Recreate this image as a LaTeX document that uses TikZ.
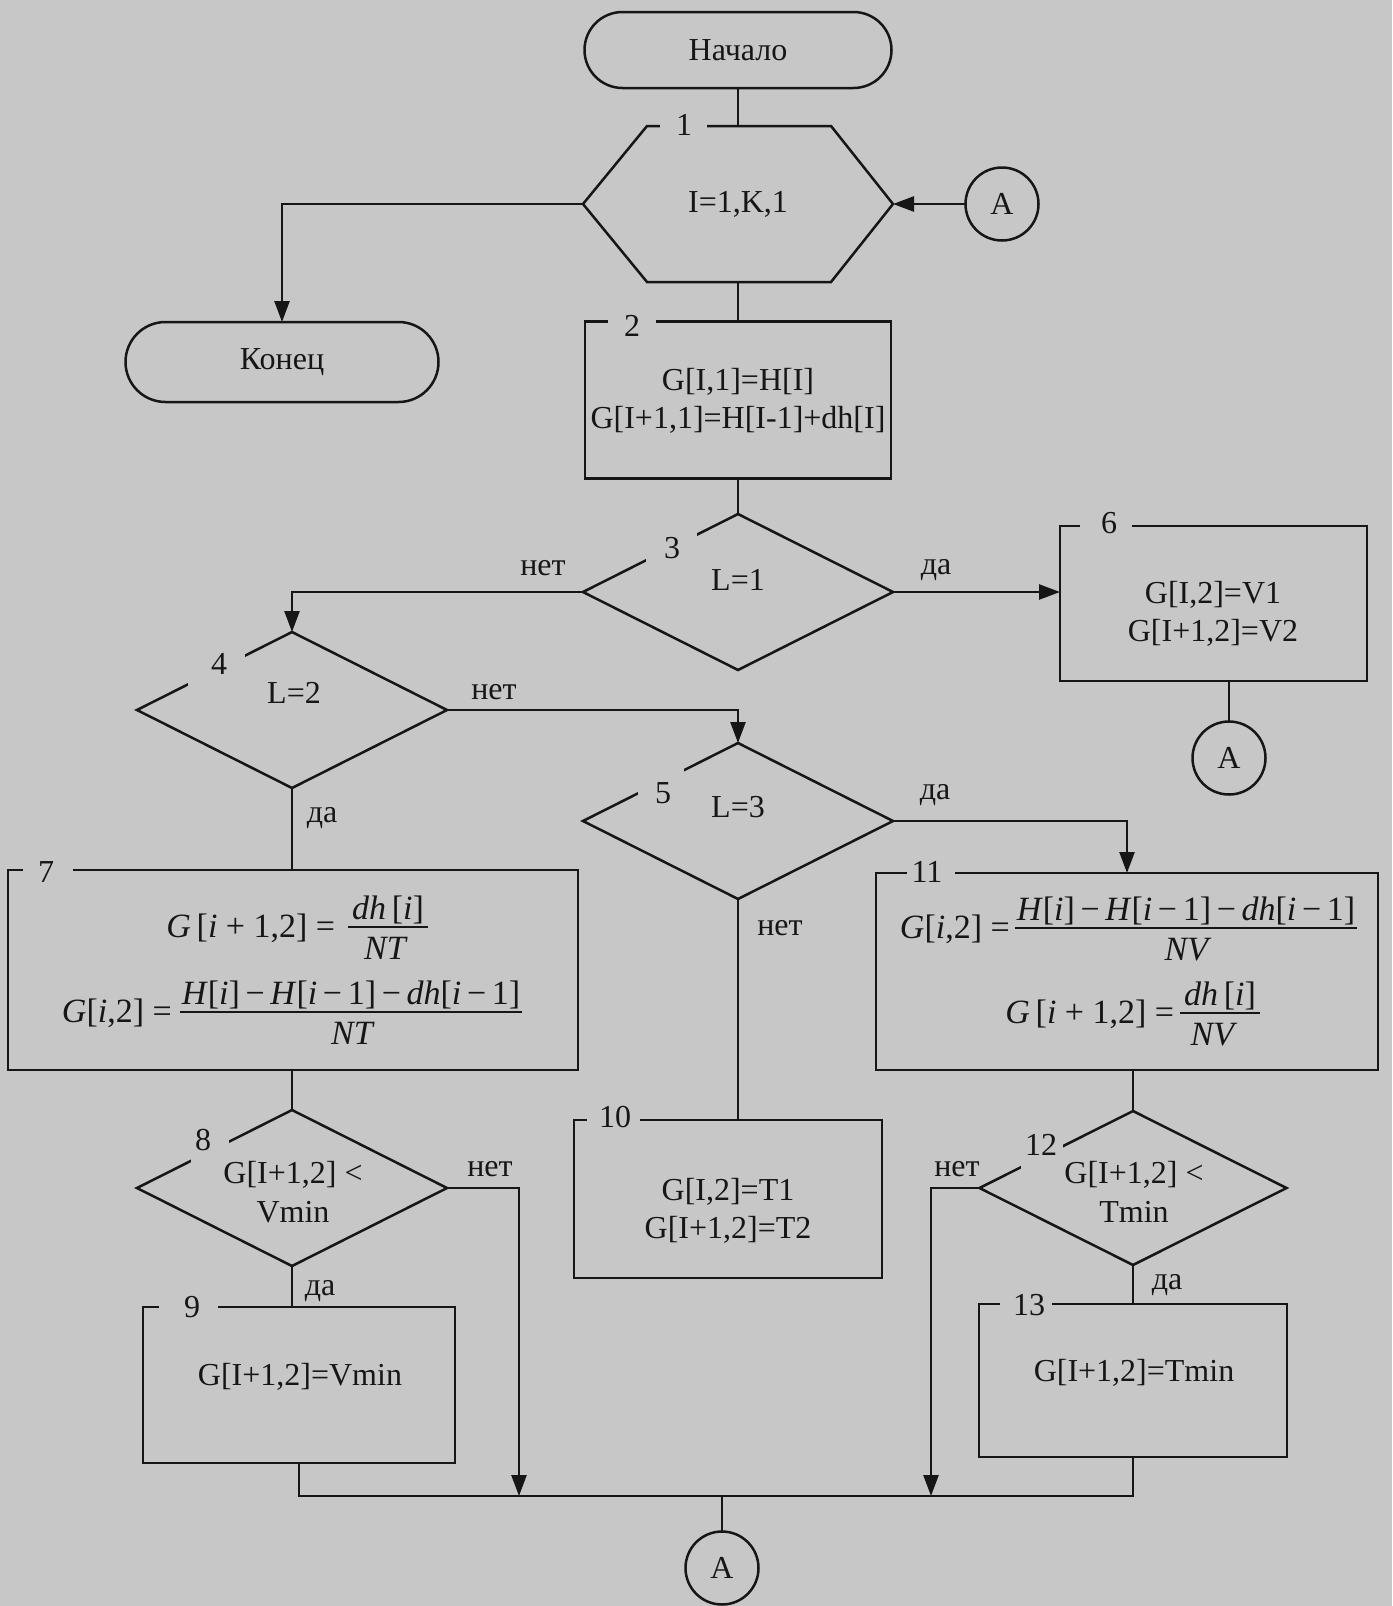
\documentclass[tikz,border=0pt]{standalone}
\usepackage{fontspec}
\setmainfont{Liberation Serif}
\usetikzlibrary{shapes.geometric,shapes.misc,arrows.meta,calc}
\definecolor{bg}{RGB}{199,199,199}
\definecolor{ink}{RGB}{22,22,22}
\newcommand\vi[1]{\textit{#1}}
\begin{document}
\begin{tikzpicture}[x=1pt,y=-1pt,
  every node/.style={font=\fontsize{32}{38.5}\selectfont, text=ink, inner sep=0pt, outer sep=0pt},
  shp/.style={draw=ink, line width=2.5pt},
  boxs/.style={shp, rectangle},
  dia/.style={shp, diamond, minimum width=310pt, minimum height=156pt},
  term/.style={shp, rounded rectangle},
  circ/.style={shp, circle, minimum size=73pt},
  gapn/.style={fill=bg, draw=none},
  ln/.style={draw=ink, line width=2.5pt},
  arr/.style={ln, -{Triangle[length=21pt,width=15pt]}},
  fbar/.style={draw=ink, line width=2pt},
  fml/.style={font=\fontsize{34}{40}\selectfont}]
\useasboundingbox (0,0) rectangle (1392,1606);
\fill[bg] (0,0) rectangle (1392,1606);

% ---------- shapes ----------
\node[term, minimum width=307pt, minimum height=76pt] (start) at (738,50) {Начало};
\node[minimum width=310pt, minimum height=156pt] (h1) at (738,204) {I=1,K,1};
\draw[ln, line join=miter] ($(h1.north west)+(64,0)$) -- ($(h1.north east)+(-62,0)$) -- (h1.east)
   -- ($(h1.south east)+(-62,0)$) -- ($(h1.south west)+(64,0)$) -- (h1.west) -- cycle;
\node[circ] (a1) at (1002,204) {A};
\node[term, minimum width=313pt, minimum height=80pt] (end) at (282,362) {Конец};
\node[boxs, minimum width=306pt, minimum height=157pt] (b2) at (738,400) {};
\node[dia] (d3) at (738,592) {};
\node[boxs, minimum width=307pt, minimum height=155pt] (b6) at (1213.5,603.5) {};
\node[circ] (a2) at (1229,758) {A};
\node[dia] (d4) at (292,710) {};
\node[dia] (d5) at (738,821) {};
\node[boxs, minimum width=570pt, minimum height=200pt] (b7) at (293,970) {};
\node[boxs, minimum width=502pt, minimum height=197pt] (b11) at (1127,971.5) {};
\node[boxs, minimum width=308pt, minimum height=158pt] (b10) at (728,1199) {};
\node[dia] (d8) at (292,1188) {};
\node[boxs, minimum width=312pt, minimum height=156pt] (b9) at (299,1385) {};
\node[dia, minimum width=307pt, minimum height=154pt] (d12) at (1133,1188) {};
\node[boxs, minimum width=308pt, minimum height=153pt] (b13) at (1133,1380.5) {};
\node[circ] (a3) at (722,1568) {A};

% ---------- connectors ----------
\coordinate (jy) at (0,1496);
\coordinate (j8) at (519,1496);
\coordinate (j12) at (931,1496);
\draw[ln] (start.south) -- (h1.north);
\draw[arr] (a1.west) -- (h1.east);
\draw[arr] (h1.west) -| (end.north);
\draw[ln] (h1.south) -- (b2.north);
\draw[ln] (b2.south) -- (d3.north);
\draw[arr] (d3.east) -- (d3.east -| b6.west);
\draw[ln] (a2.north |- b6.south) -- (a2.north);
\draw[arr] (d3.west) -| (d4.north);
\draw[arr] (d4.east) -| (d5.north);
\draw[ln] (d4.south) -- (d4.south |- b7.north);
\draw[arr] (d5.east) -| (b11.north);
\draw[ln] (d5.south) -- (d5.south |- b10.north);
\draw[ln] (d8.north |- b7.south) -- (d8.north);
\draw[ln] (d12.north |- b11.south) -- (d12.north);
\draw[ln] (d8.south) -- (d8.south |- b9.north);
\draw[ln] (d12.south) -- (b13.north);
\draw[ln] (b9.south) -- (b9.south |- jy) -- (b13.south |- jy) -- (b13.south);
\draw[arr] (d8.east) -| (j8);
\draw[arr] (d12.west) -| (j12);
\draw[ln] (a3.north |- jy) -- (a3.north);

% ---------- gaps for block numbers ----------
\node[gapn, minimum width=47pt, minimum height=24pt] (g1) at (683,126) {};
\node[gapn, minimum width=48pt, minimum height=24pt] (g2) at (632,321.5) {};
\node[gapn, minimum width=52pt, minimum height=24pt] (g6) at (1106,526) {};
\node[gapn, minimum width=50pt, minimum height=24pt] (g7) at (48,870) {};
\node[gapn, minimum width=59pt, minimum height=24pt] (g9) at (188,1307) {};
\node[gapn, minimum width=53pt, minimum height=24pt] (g10) at (613,1120) {};
\node[gapn, minimum width=48pt, minimum height=24pt] (g11) at (931,873) {};
\node[gapn, minimum width=52pt, minimum height=24pt] (g13) at (1026,1304) {};
\node[gapn, minimum width=51pt, minimum height=32pt] (gd3) at ($(d3.west)!0.574!(d3.north)$) {};
\node[gapn, minimum width=57pt, minimum height=36pt] (gd4) at ($(d4.west)!0.516!(d4.north)$) {};
\node[gapn, minimum width=46pt, minimum height=30pt] (gd5) at ($(d5.west)!0.503!(d5.north)$) {};
\node[gapn, minimum width=38pt, minimum height=26pt] (gd8) at ($(d8.west)!0.47!(d8.north)$) {};
\node[gapn, minimum width=42pt, minimum height=28pt] (gd12) at ($(d12.west)!0.41!(d12.north)$) {};

% ---------- block numbers ----------
\node (l1) at (684,125) {1};
\node (l2) at (632,326) {2};
\node (l3) at (672,548) {3};
\node (l4) at (219,664) {4};
\node (l5) at (663,793) {5};
\node (l6) at (1109,523) {6};
\node (l7) at (46,872) {7};
\node (l8) at (203,1140) {8};
\node (l9) at (192,1307) {9};
\node (l10) at (615,1117) {10};
\node (l11) at (927,872) {11};
\node (l12) at (1041,1145) {12};
\node (l13) at (1029,1305) {13};

% ---------- branch labels ----------
\node (y3) at (936,570) {да};
\node (n3) at (543,568) {нет};
\node (n4) at (494,692) {нет};
\node (y4) at (322,818) {да};
\node (y5) at (935,795) {да};
\node (n5) at (780,928) {нет};
\node (n8) at (490,1169) {нет};
\node (y8) at (320,1291) {да};
\node (n12) at (957,1169) {нет};
\node (y12) at (1167,1285) {да};

% ---------- block texts ----------
\node[align=center] (t2) at (738,401) {G[I,1]=H[I]\\G[I+1,1]=H[I-1]+dh[I]};
\node (t3) at (738,580) {L=1};
\node (t4) at (294,693) {L=2};
\node (t5) at (738,807) {L=3};
\node[align=center] (t6) at (1213,614) {G[I,2]=V1\\G[I+1,2]=V2};
\node[align=center] (t8) at (293,1192) {G[I+1,2] <\\Vmin};
\node[align=center] (t12) at (1134,1192) {G[I+1,2] <\\Tmin};
\node[align=center] (t10) at (728,1211) {G[I,2]=T1\\G[I+1,2]=T2};
\node (t9) at (300,1377) {G[I+1,2]=Vmin};
\node (t13) at (1134,1373) {G[I+1,2]=Tmin};

% ---------- formulas, block 7 ----------
\coordinate (y7a) at (0,927);
\coordinate (y7b) at (0,1012);
\node[fml, anchor=base] (f7an) at (388,919) {\vi{dh}\,[\vi{i}]};
\node[fml, anchor=base] (f7ad) at (386,959) {\vi{NT}};
\draw[fbar] ($(f7an.west |- y7a)+(-4,0)$) -- ($(f7an.east |- y7a)+(4,0)$);
\node[fml, anchor=base east] (f7al) at ($(f7an.west |- y7a)+(-17,10)$) {\vi{G}\,[\vi{i} + 1,2] =};
\node[fml, anchor=base] (f7bn) at (351,1004) {\vi{H}[\vi{i}]\,−\,\vi{H}[\vi{i}\,−\,1]\,−\,\vi{dh}[\vi{i}\,−\,1]};
\node[fml, anchor=base] (f7bd) at (353,1044) {\vi{NT}};
\draw[fbar] ($(f7bn.west |- y7b)+(-2,0)$) -- ($(f7bn.east |- y7b)+(2,0)$);
\node[fml, anchor=base east] (f7bl) at ($(f7bn.west |- y7b)+(-10,10)$) {\vi{G}[\vi{i},2] =};

% ---------- formulas, block 11 ----------
\coordinate (y11a) at (0,928);
\coordinate (y11b) at (0,1013);
\node[fml, anchor=base] (f11an) at (1186,920) {\vi{H}[\vi{i}]\,−\,\vi{H}[\vi{i}\,−\,1]\,−\,\vi{dh}[\vi{i}\,−\,1]};
\node[fml, anchor=base] (f11ad) at (1188,960) {\vi{NV}};
\draw[fbar] ($(f11an.west |- y11a)+(-2,0)$) -- ($(f11an.east |- y11a)+(2,0)$);
\node[fml, anchor=base east] (f11al) at ($(f11an.west |- y11a)+(-7,10)$) {\vi{G}[\vi{i},2] =};
\node[fml, anchor=base] (f11bn) at (1220,1005) {\vi{dh}\,[\vi{i}]};
\node[fml, anchor=base] (f11bd) at (1214,1045) {\vi{NV}};
\draw[fbar] ($(f11bn.west |- y11b)+(-4,0)$) -- ($(f11bn.east |- y11b)+(4,0)$);
\node[fml, anchor=base east] (f11bl) at ($(f11bn.west |- y11b)+(-10,10)$) {\vi{G}\,[\vi{i} + 1,2] =};
\end{tikzpicture}
\end{document}
